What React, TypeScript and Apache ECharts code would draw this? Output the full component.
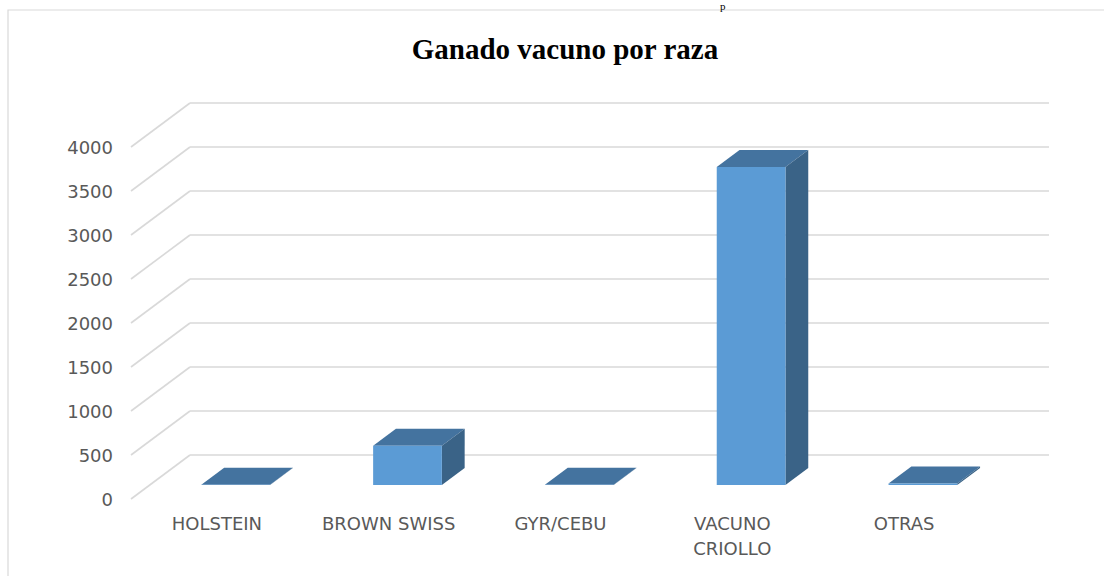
import React, { useEffect, useRef } from "react";
import * as echarts from "echarts";

const categories = ["HOLSTEIN", "BROWN SWISS", "GYR/CEBU", "VACUNO CRIOLLO", "OTRAS"];
const values = [4, 445, 2, 3615, 18];
const yTicks = [0, 500, 1000, 1500, 2000, 2500, 3000, 3500, 4000];
const titleText = "Ganado vacuno por raza";

// depth geometry (px)
const WALL_DX = 59;
const WALL_DY = -44;
const BAR_FX = 18.8;
const BAR_FY = -14;
const BAR_DX = 22.8;
const BAR_DY = -17;

export default function App() {
  const ref = useRef<HTMLDivElement>(null);
  useEffect(() => {
    if (!ref.current) return;
    const chart = echarts.init(ref.current, undefined, { renderer: "svg" });
    const option: any = {
      animation: false,
      backgroundColor: "#ffffff",
      title: {
        text: titleText,
        left: 560,
        textAlign: "center",
        top: 29,
        textStyle: {
          fontFamily: "Liberation Serif",
          fontWeight: "bold",
          fontSize: 29,
          color: "#000000",
        },
      },
      graphic: [
        {
          type: "rect",
          shape: { x: 8, y: 10, width: 1200, height: 700 },
          style: { fill: "none", stroke: "#d9d9d9", lineWidth: 1.2 },
          silent: true,
        },
        {
          type: "text",
          x: 720,
          y: 0,
          style: {
            text: "p",
            fontFamily: "Liberation Serif",
            fontSize: 11,
            fill: "#000000",
            textVerticalAlign: "top",
          },
          silent: true,
        },
      ],
      grid: { left: 131, right: 114, top: 147, bottom: 77, containLabel: false },
      xAxis: {
        type: "category",
        data: categories,
        axisLine: { show: false },
        axisTick: { show: false },
        splitLine: { show: false },
        axisLabel: {
          color: "#595959",
          fontSize: 18,
          fontFamily: "DejaVu Sans",
          margin: 12,
          lineHeight: 25,
          interval: 0,
          formatter: (v: string) => (v.length > 12 ? v.replace(" ", "\n") : v),
        },
      },
      yAxis: {
        type: "value",
        min: 0,
        max: 4000,
        interval: 500,
        axisLine: { show: false },
        axisTick: { show: false },
        splitLine: { show: false },
        axisLabel: {
          color: "#595959",
          fontSize: 18,
          fontFamily: "DejaVu Sans",
          margin: 18,
          formatter: (v: number) => String(v),
        },
      },
      series: [
        {
          type: "custom",
          name: "walls",
          silent: true,
          z: 1,
          data: yTicks.map((t) => [0, t]),
          encode: { x: 0, y: 1 },
          renderItem: (params: any, api: any) => {
            const cs = params.coordSys;
            const y = api.coord([0, api.value(1)])[1];
            const lineStyle = { stroke: "#d9d9d9", lineWidth: 1.6 };
            return {
              type: "group",
              children: [
                {
                  type: "line",
                  shape: { x1: cs.x, y1: y, x2: cs.x + WALL_DX, y2: y + WALL_DY },
                  style: lineStyle,
                },
                {
                  type: "line",
                  shape: {
                    x1: cs.x + WALL_DX,
                    y1: y + WALL_DY,
                    x2: cs.x + cs.width + WALL_DX,
                    y2: y + WALL_DY,
                  },
                  style: lineStyle,
                },
              ],
            };
          },
        },
        {
          type: "custom",
          name: "Ganado",
          z: 2,
          data: values.map((v, i) => [i, v]),
          encode: { x: 0, y: 1 },
          renderItem: (params: any, api: any) => {
            const idx = api.value(0);
            const [cx, y] = api.coord([idx, api.value(1)]);
            const y0 = api.coord([idx, 0])[1];
            const bw = api.size([1, 0])[0] * 0.4;
            const left = cx - bw / 2 + BAR_FX;
            const right = left + bw;
            const top = y + BAR_FY;
            const bottom = y0 + BAR_FY;
            return {
              type: "group",
              children: [
                {
                  type: "polygon",
                  shape: {
                    points: [
                      [left, top],
                      [right, top],
                      [right + BAR_DX, top + BAR_DY],
                      [left + BAR_DX, top + BAR_DY],
                    ],
                  },
                  style: { fill: "#44739f" },
                },
                {
                  type: "polygon",
                  shape: {
                    points: [
                      [right, top],
                      [right + BAR_DX, top + BAR_DY],
                      [right + BAR_DX, bottom + BAR_DY],
                      [right, bottom],
                    ],
                  },
                  style: { fill: "#3a6387" },
                },
                {
                  type: "rect",
                  shape: { x: left, y: top, width: bw, height: Math.max(bottom - top, 0) },
                  style: { fill: "#5b9bd5" },
                },
              ],
            };
          },
        },
      ],
    };
    chart.setOption(option);
    return () => chart.dispose();
  }, []);
  return (
    <div
      ref={ref}
      style={{ position: "fixed", left: 0, top: 0, width: 1104, height: 576 }}
    />
  );
}
